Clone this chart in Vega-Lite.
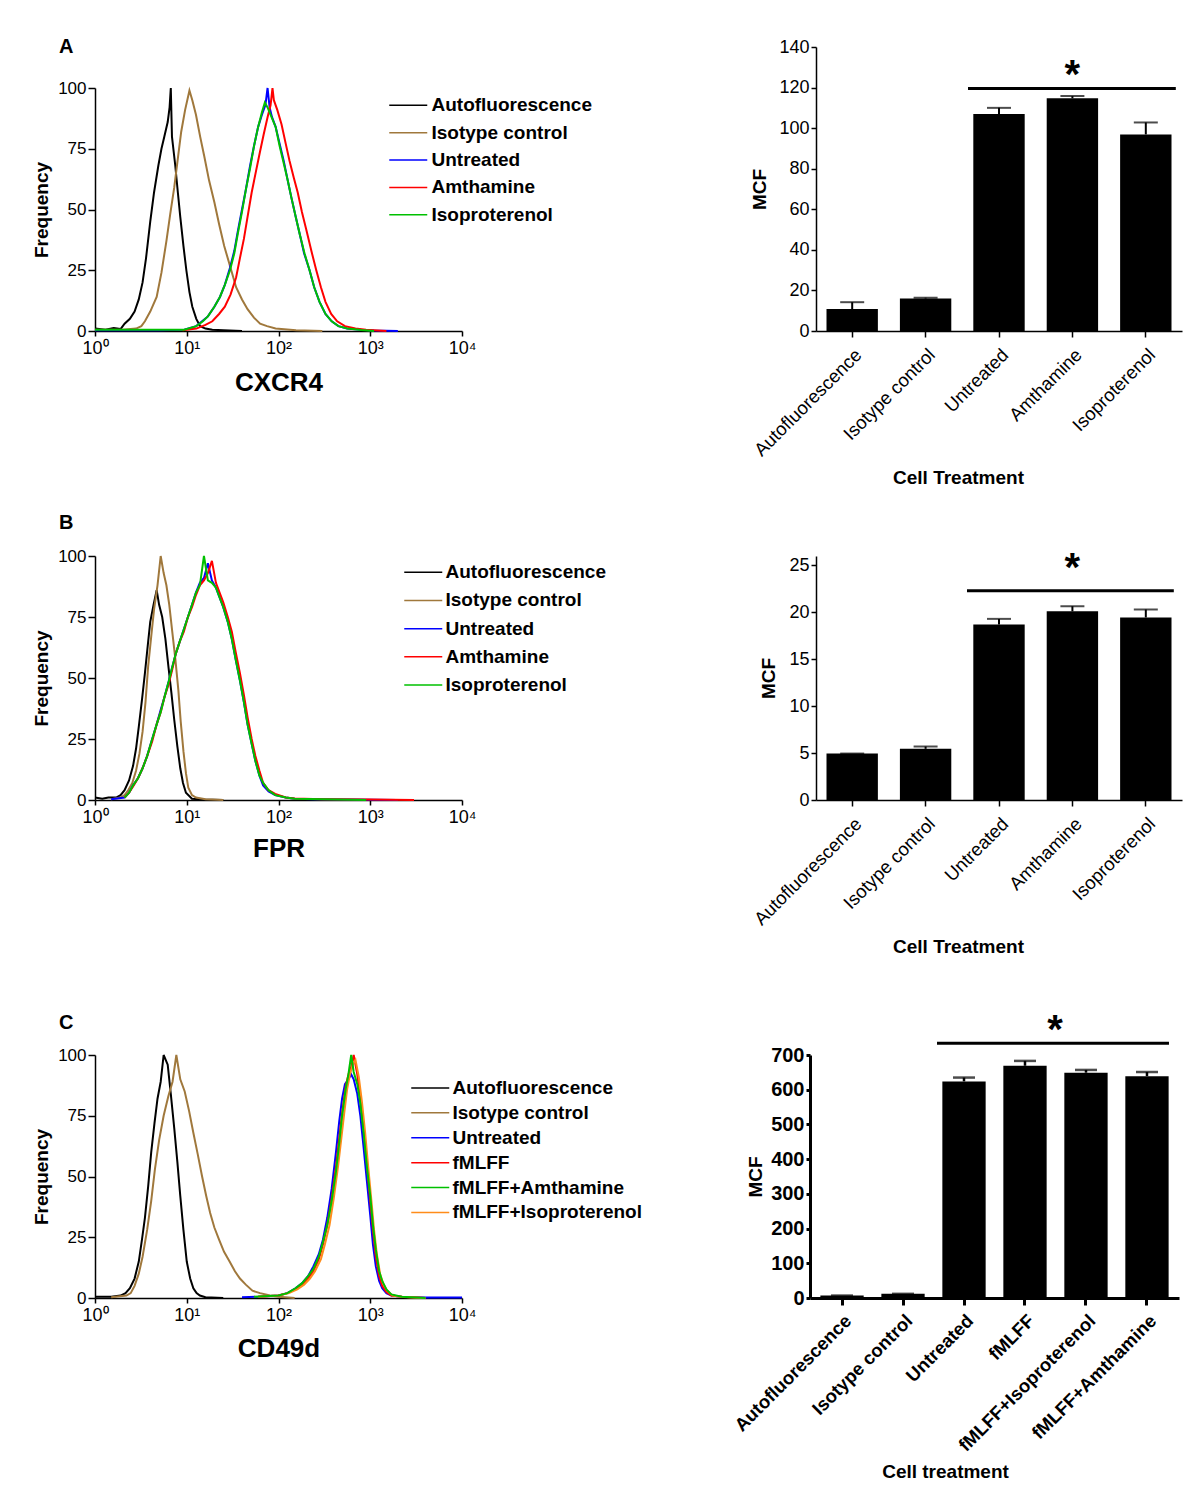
{
  "$schema": "https://vega.github.io/schema/vega-lite/v6.json",
  "background": "white",
  "padding": {"left": 32, "top": 36, "right": 5, "bottom": 5},
  "columns": 2,
  "bounds": "flush",
  "spacing": {"row": 225, "column": 354},
  "resolve": {"scale": {"color": "independent"}, "legend": {"color": "independent"}},
  "config": {
    "font": "Liberation Sans",
    "view": {"stroke": null},
    "axis": {"domainColor": "#000000", "tickColor": "#000000", "labelColor": "#000000", "titleColor": "#000000", "grid": false, "domainWidth": 1.5, "tickWidth": 1.5, "labelFont": "Liberation Sans", "titleFont": "Liberation Sans", "labelFlush": false, "labelOverlap": false, "labelLimit": 400},
    "legend": {"labelFont": "Liberation Sans", "labelLimit": 400},
    "title": {"font": "Liberation Sans", "fontSize": 20, "fontWeight": "bold", "color": "#000000", "anchor": "start", "frame": "group", "dx": -36, "baseline": "alphabetic"}
  },
  "datasets": {
    "hA": [
      {"s":"Autofluorescence","x":1,"y":1},{"s":"Autofluorescence","x":1.3,"y":0.5},{"s":"Autofluorescence","x":1.6,"y":1.2},{"s":"Autofluorescence","x":1.9,"y":0.8},{"s":"Autofluorescence","x":2.1,"y":3},{"s":"Autofluorescence","x":2.4,"y":5},{"s":"Autofluorescence","x":2.7,"y":8},{"s":"Autofluorescence","x":3.0,"y":13},{"s":"Autofluorescence","x":3.3,"y":20},{"s":"Autofluorescence","x":3.6,"y":30},{"s":"Autofluorescence","x":4.0,"y":45},{"s":"Autofluorescence","x":4.4,"y":57},{"s":"Autofluorescence","x":4.9,"y":68},{"s":"Autofluorescence","x":5.3,"y":75},{"s":"Autofluorescence","x":5.7,"y":80},{"s":"Autofluorescence","x":6.2,"y":86},{"s":"Autofluorescence","x":6.5,"y":92},{"s":"Autofluorescence","x":6.7,"y":100},{"s":"Autofluorescence","x":6.9,"y":80},{"s":"Autofluorescence","x":7.5,"y":68},{"s":"Autofluorescence","x":8.0,"y":57},{"s":"Autofluorescence","x":8.5,"y":47},{"s":"Autofluorescence","x":9.2,"y":35},{"s":"Autofluorescence","x":9.9,"y":25},{"s":"Autofluorescence","x":10.7,"y":16},{"s":"Autofluorescence","x":11.5,"y":10},{"s":"Autofluorescence","x":12.7,"y":5},{"s":"Autofluorescence","x":14,"y":2},{"s":"Autofluorescence","x":16,"y":1},{"s":"Autofluorescence","x":19,"y":0.5},{"s":"Autofluorescence","x":25,"y":0.3},{"s":"Autofluorescence","x":40,"y":0},
      {"s":"Isotype control","x":1,"y":0.5},{"s":"Isotype control","x":2,"y":0.5},{"s":"Isotype control","x":2.8,"y":1},{"s":"Isotype control","x":3.2,"y":2},{"s":"Isotype control","x":3.5,"y":4},{"s":"Isotype control","x":4.0,"y":8},{"s":"Isotype control","x":4.7,"y":14},{"s":"Isotype control","x":5.3,"y":24},{"s":"Isotype control","x":6.0,"y":37},{"s":"Isotype control","x":6.6,"y":48},{"s":"Isotype control","x":7.3,"y":59},{"s":"Isotype control","x":8.0,"y":71},{"s":"Isotype control","x":8.7,"y":82},{"s":"Isotype control","x":9.6,"y":91},{"s":"Isotype control","x":10.7,"y":99},{"s":"Isotype control","x":11.5,"y":95},{"s":"Isotype control","x":12.6,"y":89},{"s":"Isotype control","x":14,"y":80},{"s":"Isotype control","x":15.5,"y":72},{"s":"Isotype control","x":17.5,"y":62},{"s":"Isotype control","x":20,"y":53},{"s":"Isotype control","x":22.5,"y":44},{"s":"Isotype control","x":25.6,"y":35},{"s":"Isotype control","x":30,"y":26},{"s":"Isotype control","x":34.5,"y":18},{"s":"Isotype control","x":40,"y":13},{"s":"Isotype control","x":46,"y":9},{"s":"Isotype control","x":54,"y":5.5},{"s":"Isotype control","x":63,"y":3},{"s":"Isotype control","x":75,"y":2},{"s":"Isotype control","x":93,"y":1},{"s":"Isotype control","x":155,"y":0.3},{"s":"Isotype control","x":300,"y":0},
      {"s":"Untreated","x":1,"y":0.3},{"s":"Untreated","x":5,"y":0.3},{"s":"Untreated","x":9.4,"y":0.5},{"s":"Untreated","x":12.7,"y":2},{"s":"Untreated","x":17,"y":6},{"s":"Untreated","x":20,"y":10},{"s":"Untreated","x":23,"y":14},{"s":"Untreated","x":26,"y":19},{"s":"Untreated","x":29.6,"y":26},{"s":"Untreated","x":33,"y":33},{"s":"Untreated","x":36,"y":41},{"s":"Untreated","x":40,"y":50},{"s":"Untreated","x":44,"y":58},{"s":"Untreated","x":49,"y":68},{"s":"Untreated","x":54,"y":76},{"s":"Untreated","x":60,"y":84},{"s":"Untreated","x":66,"y":89},{"s":"Untreated","x":72,"y":93},{"s":"Untreated","x":76,"y":100},{"s":"Untreated","x":80,"y":92},{"s":"Untreated","x":85,"y":88},{"s":"Untreated","x":93,"y":84},{"s":"Untreated","x":103,"y":77},{"s":"Untreated","x":114,"y":70},{"s":"Untreated","x":126,"y":62},{"s":"Untreated","x":138,"y":55},{"s":"Untreated","x":154,"y":47},{"s":"Untreated","x":170,"y":40},{"s":"Untreated","x":190,"y":32},{"s":"Untreated","x":218,"y":25},{"s":"Untreated","x":245,"y":18},{"s":"Untreated","x":280,"y":12},{"s":"Untreated","x":325,"y":7},{"s":"Untreated","x":380,"y":4},{"s":"Untreated","x":450,"y":2},{"s":"Untreated","x":560,"y":1},{"s":"Untreated","x":800,"y":0.5},{"s":"Untreated","x":1100,"y":0.2},{"s":"Untreated","x":2000,"y":0},
      {"s":"Amthamine","x":9,"y":0.3},{"s":"Amthamine","x":12.7,"y":1},{"s":"Amthamine","x":16,"y":2.5},{"s":"Amthamine","x":19,"y":4},{"s":"Amthamine","x":22.5,"y":7},{"s":"Amthamine","x":26,"y":10},{"s":"Amthamine","x":30,"y":15},{"s":"Amthamine","x":34.5,"y":22},{"s":"Amthamine","x":38,"y":30},{"s":"Amthamine","x":42,"y":38},{"s":"Amthamine","x":46,"y":47},{"s":"Amthamine","x":51,"y":57},{"s":"Amthamine","x":57,"y":66},{"s":"Amthamine","x":63,"y":74},{"s":"Amthamine","x":69,"y":81},{"s":"Amthamine","x":76,"y":88},{"s":"Amthamine","x":82,"y":93},{"s":"Amthamine","x":86,"y":100},{"s":"Amthamine","x":89,"y":95},{"s":"Amthamine","x":97,"y":91},{"s":"Amthamine","x":108,"y":85},{"s":"Amthamine","x":120,"y":77},{"s":"Amthamine","x":132,"y":70},{"s":"Amthamine","x":147,"y":63},{"s":"Amthamine","x":162,"y":57},{"s":"Amthamine","x":180,"y":49},{"s":"Amthamine","x":200,"y":42},{"s":"Amthamine","x":228,"y":33},{"s":"Amthamine","x":258,"y":25},{"s":"Amthamine","x":290,"y":18},{"s":"Amthamine","x":325,"y":12},{"s":"Amthamine","x":375,"y":7},{"s":"Amthamine","x":436,"y":4},{"s":"Amthamine","x":530,"y":2},{"s":"Amthamine","x":690,"y":1},{"s":"Amthamine","x":900,"y":0.5},{"s":"Amthamine","x":1500,"y":0},
      {"s":"Isoproterenol","x":1,"y":0.5},{"s":"Isoproterenol","x":5,"y":0.5},{"s":"Isoproterenol","x":9.4,"y":0.5},{"s":"Isoproterenol","x":12.7,"y":2},{"s":"Isoproterenol","x":15,"y":4},{"s":"Isoproterenol","x":17,"y":6},{"s":"Isoproterenol","x":20,"y":10},{"s":"Isoproterenol","x":23,"y":14},{"s":"Isoproterenol","x":26,"y":19},{"s":"Isoproterenol","x":29.6,"y":25},{"s":"Isoproterenol","x":33,"y":32},{"s":"Isoproterenol","x":36,"y":40},{"s":"Isoproterenol","x":40,"y":49},{"s":"Isoproterenol","x":44,"y":58},{"s":"Isoproterenol","x":49,"y":67},{"s":"Isoproterenol","x":54,"y":76},{"s":"Isoproterenol","x":60,"y":84},{"s":"Isoproterenol","x":66,"y":90},{"s":"Isoproterenol","x":71,"y":94},{"s":"Isoproterenol","x":76,"y":92},{"s":"Isoproterenol","x":84,"y":88},{"s":"Isoproterenol","x":93,"y":84},{"s":"Isoproterenol","x":103,"y":76},{"s":"Isoproterenol","x":114,"y":69},{"s":"Isoproterenol","x":126,"y":62},{"s":"Isoproterenol","x":138,"y":55},{"s":"Isoproterenol","x":154,"y":47},{"s":"Isoproterenol","x":170,"y":40},{"s":"Isoproterenol","x":192,"y":32},{"s":"Isoproterenol","x":218,"y":25},{"s":"Isoproterenol","x":245,"y":18},{"s":"Isoproterenol","x":280,"y":12},{"s":"Isoproterenol","x":325,"y":7},{"s":"Isoproterenol","x":380,"y":4},{"s":"Isoproterenol","x":450,"y":2},{"s":"Isoproterenol","x":560,"y":1},{"s":"Isoproterenol","x":800,"y":0.4},{"s":"Isoproterenol","x":1100,"y":0}
    ],
    "hB": [
      {"s":"Autofluorescence","x":1,"y":1},{"s":"Autofluorescence","x":1.2,"y":0.5},{"s":"Autofluorescence","x":1.4,"y":1},{"s":"Autofluorescence","x":1.7,"y":1},{"s":"Autofluorescence","x":1.9,"y":2},{"s":"Autofluorescence","x":2.1,"y":4},{"s":"Autofluorescence","x":2.35,"y":8},{"s":"Autofluorescence","x":2.6,"y":14},{"s":"Autofluorescence","x":2.8,"y":21},{"s":"Autofluorescence","x":3.0,"y":30},{"s":"Autofluorescence","x":3.25,"y":41},{"s":"Autofluorescence","x":3.5,"y":52},{"s":"Autofluorescence","x":3.75,"y":63},{"s":"Autofluorescence","x":4.0,"y":73},{"s":"Autofluorescence","x":4.35,"y":80},{"s":"Autofluorescence","x":4.7,"y":86},{"s":"Autofluorescence","x":5.0,"y":80},{"s":"Autofluorescence","x":5.4,"y":75},{"s":"Autofluorescence","x":5.85,"y":66},{"s":"Autofluorescence","x":6.3,"y":55},{"s":"Autofluorescence","x":6.8,"y":44},{"s":"Autofluorescence","x":7.3,"y":33},{"s":"Autofluorescence","x":7.9,"y":22},{"s":"Autofluorescence","x":8.5,"y":13},{"s":"Autofluorescence","x":9.1,"y":7},{"s":"Autofluorescence","x":9.8,"y":3},{"s":"Autofluorescence","x":11.4,"y":0.5},{"s":"Autofluorescence","x":15,"y":0.2},{"s":"Autofluorescence","x":25,"y":0},
      {"s":"Isotype control","x":1.5,"y":0.3},{"s":"Isotype control","x":1.9,"y":1},{"s":"Isotype control","x":2.1,"y":2},{"s":"Isotype control","x":2.3,"y":4},{"s":"Isotype control","x":2.55,"y":7},{"s":"Isotype control","x":2.8,"y":12},{"s":"Isotype control","x":3.05,"y":19},{"s":"Isotype control","x":3.3,"y":28},{"s":"Isotype control","x":3.55,"y":40},{"s":"Isotype control","x":3.8,"y":55},{"s":"Isotype control","x":4.1,"y":67},{"s":"Isotype control","x":4.4,"y":78},{"s":"Isotype control","x":4.8,"y":88},{"s":"Isotype control","x":5.2,"y":100},{"s":"Isotype control","x":5.6,"y":93},{"s":"Isotype control","x":6.0,"y":88},{"s":"Isotype control","x":6.45,"y":80},{"s":"Isotype control","x":6.9,"y":70},{"s":"Isotype control","x":7.5,"y":58},{"s":"Isotype control","x":8.1,"y":45},{"s":"Isotype control","x":8.6,"y":32},{"s":"Isotype control","x":9.2,"y":20},{"s":"Isotype control","x":9.8,"y":11},{"s":"Isotype control","x":10.4,"y":5},{"s":"Isotype control","x":11.4,"y":2},{"s":"Isotype control","x":12.6,"y":1},{"s":"Isotype control","x":16,"y":0.3},{"s":"Isotype control","x":25,"y":0},
      {"s":"Untreated","x":1.5,"y":0.3},{"s":"Untreated","x":2.1,"y":1},{"s":"Untreated","x":2.35,"y":3},{"s":"Untreated","x":2.6,"y":6},{"s":"Untreated","x":2.95,"y":9},{"s":"Untreated","x":3.3,"y":13},{"s":"Untreated","x":3.7,"y":18},{"s":"Untreated","x":4.2,"y":25},{"s":"Untreated","x":4.7,"y":31},{"s":"Untreated","x":5.2,"y":37},{"s":"Untreated","x":5.7,"y":42},{"s":"Untreated","x":6.3,"y":48},{"s":"Untreated","x":6.9,"y":54},{"s":"Untreated","x":7.6,"y":60},{"s":"Untreated","x":8.4,"y":65},{"s":"Untreated","x":9.3,"y":70},{"s":"Untreated","x":10.3,"y":75},{"s":"Untreated","x":11.4,"y":80},{"s":"Untreated","x":12.6,"y":85},{"s":"Untreated","x":13.9,"y":89},{"s":"Untreated","x":15.4,"y":91},{"s":"Untreated","x":17,"y":97},{"s":"Untreated","x":18.8,"y":90},{"s":"Untreated","x":20.8,"y":87},{"s":"Untreated","x":22.8,"y":83},{"s":"Untreated","x":25,"y":79},{"s":"Untreated","x":28,"y":73},{"s":"Untreated","x":31,"y":66},{"s":"Untreated","x":34,"y":58},{"s":"Untreated","x":38,"y":49},{"s":"Untreated","x":42,"y":40},{"s":"Untreated","x":46,"y":31},{"s":"Untreated","x":51,"y":23},{"s":"Untreated","x":56,"y":16},{"s":"Untreated","x":62,"y":10},{"s":"Untreated","x":68,"y":6},{"s":"Untreated","x":78,"y":3.5},{"s":"Untreated","x":92,"y":2},{"s":"Untreated","x":120,"y":1},{"s":"Untreated","x":150,"y":0.5},{"s":"Untreated","x":250,"y":0.3},{"s":"Untreated","x":600,"y":0.2},{"s":"Untreated","x":2000,"y":0},
      {"s":"Amthamine","x":2.1,"y":1},{"s":"Amthamine","x":2.35,"y":3},{"s":"Amthamine","x":2.6,"y":5.5},{"s":"Amthamine","x":2.95,"y":9},{"s":"Amthamine","x":3.3,"y":13},{"s":"Amthamine","x":3.7,"y":18},{"s":"Amthamine","x":4.2,"y":24},{"s":"Amthamine","x":4.7,"y":31},{"s":"Amthamine","x":5.2,"y":36},{"s":"Amthamine","x":5.7,"y":42},{"s":"Amthamine","x":6.3,"y":47},{"s":"Amthamine","x":6.9,"y":53},{"s":"Amthamine","x":7.6,"y":60},{"s":"Amthamine","x":8.4,"y":65},{"s":"Amthamine","x":9.3,"y":69},{"s":"Amthamine","x":10.3,"y":75},{"s":"Amthamine","x":11.4,"y":79},{"s":"Amthamine","x":12.6,"y":84},{"s":"Amthamine","x":13.9,"y":88},{"s":"Amthamine","x":15.4,"y":90},{"s":"Amthamine","x":17,"y":93},{"s":"Amthamine","x":18.8,"y":98},{"s":"Amthamine","x":20.8,"y":89},{"s":"Amthamine","x":22.8,"y":85},{"s":"Amthamine","x":25,"y":81},{"s":"Amthamine","x":28,"y":75},{"s":"Amthamine","x":31,"y":69},{"s":"Amthamine","x":34,"y":61},{"s":"Amthamine","x":38,"y":52},{"s":"Amthamine","x":42,"y":43},{"s":"Amthamine","x":46,"y":34},{"s":"Amthamine","x":51,"y":25},{"s":"Amthamine","x":56,"y":18},{"s":"Amthamine","x":62,"y":12},{"s":"Amthamine","x":68,"y":7},{"s":"Amthamine","x":78,"y":4},{"s":"Amthamine","x":92,"y":2.5},{"s":"Amthamine","x":120,"y":1},{"s":"Amthamine","x":150,"y":0.6},{"s":"Amthamine","x":300,"y":0.3},{"s":"Amthamine","x":1000,"y":0.2},{"s":"Amthamine","x":3000,"y":0},
      {"s":"Isoproterenol","x":2.1,"y":1},{"s":"Isoproterenol","x":2.35,"y":3},{"s":"Isoproterenol","x":2.6,"y":6},{"s":"Isoproterenol","x":2.95,"y":9},{"s":"Isoproterenol","x":3.3,"y":13},{"s":"Isoproterenol","x":3.7,"y":18},{"s":"Isoproterenol","x":4.2,"y":25},{"s":"Isoproterenol","x":4.7,"y":31},{"s":"Isoproterenol","x":5.2,"y":36},{"s":"Isoproterenol","x":5.7,"y":42},{"s":"Isoproterenol","x":6.3,"y":48},{"s":"Isoproterenol","x":6.9,"y":54},{"s":"Isoproterenol","x":7.6,"y":60},{"s":"Isoproterenol","x":8.4,"y":65},{"s":"Isoproterenol","x":9.3,"y":70},{"s":"Isoproterenol","x":10.3,"y":75},{"s":"Isoproterenol","x":11.4,"y":80},{"s":"Isoproterenol","x":12.6,"y":85},{"s":"Isoproterenol","x":13.9,"y":88},{"s":"Isoproterenol","x":15.4,"y":100},{"s":"Isoproterenol","x":17,"y":90},{"s":"Isoproterenol","x":18.8,"y":89},{"s":"Isoproterenol","x":20.8,"y":87},{"s":"Isoproterenol","x":22.8,"y":83},{"s":"Isoproterenol","x":25,"y":79},{"s":"Isoproterenol","x":28,"y":73},{"s":"Isoproterenol","x":31,"y":66},{"s":"Isoproterenol","x":34,"y":58},{"s":"Isoproterenol","x":38,"y":49},{"s":"Isoproterenol","x":42,"y":40},{"s":"Isoproterenol","x":46,"y":31},{"s":"Isoproterenol","x":51,"y":23},{"s":"Isoproterenol","x":56,"y":16},{"s":"Isoproterenol","x":62,"y":10},{"s":"Isoproterenol","x":68,"y":7},{"s":"Isoproterenol","x":78,"y":4},{"s":"Isoproterenol","x":92,"y":2},{"s":"Isoproterenol","x":120,"y":1},{"s":"Isoproterenol","x":150,"y":0.5},{"s":"Isoproterenol","x":300,"y":0.3},{"s":"Isoproterenol","x":900,"y":0}
    ],
    "hC": [
      {"s":"Autofluorescence","x":1,"y":0.5},{"s":"Autofluorescence","x":1.5,"y":0.5},{"s":"Autofluorescence","x":1.9,"y":1},{"s":"Autofluorescence","x":2.15,"y":2},{"s":"Autofluorescence","x":2.4,"y":4},{"s":"Autofluorescence","x":2.7,"y":8},{"s":"Autofluorescence","x":3.0,"y":15},{"s":"Autofluorescence","x":3.25,"y":24},{"s":"Autofluorescence","x":3.5,"y":33},{"s":"Autofluorescence","x":3.8,"y":46},{"s":"Autofluorescence","x":4.1,"y":60},{"s":"Autofluorescence","x":4.45,"y":72},{"s":"Autofluorescence","x":4.8,"y":82},{"s":"Autofluorescence","x":5.2,"y":89},{"s":"Autofluorescence","x":5.6,"y":100},{"s":"Autofluorescence","x":6.2,"y":96},{"s":"Autofluorescence","x":6.7,"y":84},{"s":"Autofluorescence","x":7.3,"y":70},{"s":"Autofluorescence","x":7.9,"y":56},{"s":"Autofluorescence","x":8.5,"y":42},{"s":"Autofluorescence","x":9.2,"y":28},{"s":"Autofluorescence","x":10,"y":15},{"s":"Autofluorescence","x":10.9,"y":8},{"s":"Autofluorescence","x":11.8,"y":4},{"s":"Autofluorescence","x":12.8,"y":2},{"s":"Autofluorescence","x":13.9,"y":1},{"s":"Autofluorescence","x":16,"y":0.3},{"s":"Autofluorescence","x":25,"y":0},
      {"s":"Isotype control","x":1.5,"y":0.3},{"s":"Isotype control","x":2.2,"y":1},{"s":"Isotype control","x":2.45,"y":2},{"s":"Isotype control","x":2.7,"y":5},{"s":"Isotype control","x":3.0,"y":10},{"s":"Isotype control","x":3.3,"y":17},{"s":"Isotype control","x":3.7,"y":28},{"s":"Isotype control","x":4.1,"y":40},{"s":"Isotype control","x":4.5,"y":53},{"s":"Isotype control","x":5.0,"y":65},{"s":"Isotype control","x":5.6,"y":75},{"s":"Isotype control","x":6.3,"y":83},{"s":"Isotype control","x":7.0,"y":89},{"s":"Isotype control","x":7.7,"y":100},{"s":"Isotype control","x":8.5,"y":90},{"s":"Isotype control","x":9.5,"y":85},{"s":"Isotype control","x":10.6,"y":77},{"s":"Isotype control","x":11.8,"y":68},{"s":"Isotype control","x":13.2,"y":59},{"s":"Isotype control","x":14.7,"y":50},{"s":"Isotype control","x":16.3,"y":42},{"s":"Isotype control","x":18,"y":35},{"s":"Isotype control","x":20,"y":29},{"s":"Isotype control","x":22.5,"y":24},{"s":"Isotype control","x":25.5,"y":19},{"s":"Isotype control","x":29.3,"y":15},{"s":"Isotype control","x":33.5,"y":11},{"s":"Isotype control","x":38,"y":8},{"s":"Isotype control","x":44,"y":5.5},{"s":"Isotype control","x":52,"y":3},{"s":"Isotype control","x":63,"y":2},{"s":"Isotype control","x":81,"y":1},{"s":"Isotype control","x":100,"y":0.5},{"s":"Isotype control","x":150,"y":0},
      {"s":"Untreated","x":40,"y":0.3},{"s":"Untreated","x":60,"y":0.5},{"s":"Untreated","x":100,"y":1},{"s":"Untreated","x":125,"y":2},{"s":"Untreated","x":153,"y":4},{"s":"Untreated","x":180,"y":6},{"s":"Untreated","x":210,"y":9},{"s":"Untreated","x":240,"y":13},{"s":"Untreated","x":275,"y":18},{"s":"Untreated","x":305,"y":24},{"s":"Untreated","x":340,"y":33},{"s":"Untreated","x":380,"y":45},{"s":"Untreated","x":423,"y":60},{"s":"Untreated","x":460,"y":73},{"s":"Untreated","x":493,"y":82},{"s":"Untreated","x":530,"y":88},{"s":"Untreated","x":578,"y":90},{"s":"Untreated","x":620,"y":92},{"s":"Untreated","x":660,"y":90},{"s":"Untreated","x":722,"y":84},{"s":"Untreated","x":780,"y":75},{"s":"Untreated","x":846,"y":62},{"s":"Untreated","x":920,"y":48},{"s":"Untreated","x":1000,"y":34},{"s":"Untreated","x":1070,"y":22},{"s":"Untreated","x":1150,"y":13},{"s":"Untreated","x":1250,"y":7},{"s":"Untreated","x":1350,"y":4},{"s":"Untreated","x":1500,"y":2},{"s":"Untreated","x":1700,"y":1},{"s":"Untreated","x":2200,"y":0.5},{"s":"Untreated","x":4000,"y":0.2},{"s":"Untreated","x":10000,"y":0.2},
      {"s":"fMLFF","x":60,"y":0.5},{"s":"fMLFF","x":100,"y":1},{"s":"fMLFF","x":125,"y":2},{"s":"fMLFF","x":153,"y":3.5},{"s":"fMLFF","x":180,"y":5.5},{"s":"fMLFF","x":210,"y":8},{"s":"fMLFF","x":240,"y":11},{"s":"fMLFF","x":275,"y":16},{"s":"fMLFF","x":305,"y":22},{"s":"fMLFF","x":340,"y":30},{"s":"fMLFF","x":380,"y":41},{"s":"fMLFF","x":423,"y":54},{"s":"fMLFF","x":460,"y":66},{"s":"fMLFF","x":493,"y":76},{"s":"fMLFF","x":540,"y":87},{"s":"fMLFF","x":578,"y":92},{"s":"fMLFF","x":620,"y":95},{"s":"fMLFF","x":660,"y":100},{"s":"fMLFF","x":722,"y":92},{"s":"fMLFF","x":780,"y":82},{"s":"fMLFF","x":846,"y":70},{"s":"fMLFF","x":920,"y":55},{"s":"fMLFF","x":1000,"y":40},{"s":"fMLFF","x":1070,"y":28},{"s":"fMLFF","x":1150,"y":17},{"s":"fMLFF","x":1250,"y":9},{"s":"fMLFF","x":1350,"y":5},{"s":"fMLFF","x":1500,"y":2.5},{"s":"fMLFF","x":1700,"y":1},{"s":"fMLFF","x":2200,"y":0.5},{"s":"fMLFF","x":4000,"y":0},
      {"s":"fMLFF+Isoproterenol","x":60,"y":0.5},{"s":"fMLFF+Isoproterenol","x":100,"y":1},{"s":"fMLFF+Isoproterenol","x":130,"y":2},{"s":"fMLFF+Isoproterenol","x":160,"y":3.5},{"s":"fMLFF+Isoproterenol","x":190,"y":5.5},{"s":"fMLFF+Isoproterenol","x":220,"y":8},{"s":"fMLFF+Isoproterenol","x":250,"y":11},{"s":"fMLFF+Isoproterenol","x":290,"y":16},{"s":"fMLFF+Isoproterenol","x":320,"y":22},{"s":"fMLFF+Isoproterenol","x":360,"y":30},{"s":"fMLFF+Isoproterenol","x":400,"y":41},{"s":"fMLFF+Isoproterenol","x":445,"y":54},{"s":"fMLFF+Isoproterenol","x":485,"y":66},{"s":"fMLFF+Isoproterenol","x":520,"y":76},{"s":"fMLFF+Isoproterenol","x":560,"y":86},{"s":"fMLFF+Isoproterenol","x":600,"y":92},{"s":"fMLFF+Isoproterenol","x":645,"y":96},{"s":"fMLFF+Isoproterenol","x":690,"y":98},{"s":"fMLFF+Isoproterenol","x":750,"y":91},{"s":"fMLFF+Isoproterenol","x":810,"y":81},{"s":"fMLFF+Isoproterenol","x":880,"y":68},{"s":"fMLFF+Isoproterenol","x":950,"y":54},{"s":"fMLFF+Isoproterenol","x":1030,"y":40},{"s":"fMLFF+Isoproterenol","x":1100,"y":28},{"s":"fMLFF+Isoproterenol","x":1180,"y":18},{"s":"fMLFF+Isoproterenol","x":1280,"y":10},{"s":"fMLFF+Isoproterenol","x":1380,"y":6},{"s":"fMLFF+Isoproterenol","x":1530,"y":3},{"s":"fMLFF+Isoproterenol","x":1750,"y":1},{"s":"fMLFF+Isoproterenol","x":2300,"y":0.4},{"s":"fMLFF+Isoproterenol","x":4000,"y":0},
      {"s":"fMLFF+Amthamine","x":54,"y":0.5},{"s":"fMLFF+Amthamine","x":100,"y":1},{"s":"fMLFF+Amthamine","x":125,"y":2},{"s":"fMLFF+Amthamine","x":153,"y":4},{"s":"fMLFF+Amthamine","x":180,"y":6},{"s":"fMLFF+Amthamine","x":210,"y":9},{"s":"fMLFF+Amthamine","x":240,"y":12},{"s":"fMLFF+Amthamine","x":275,"y":17},{"s":"fMLFF+Amthamine","x":305,"y":23},{"s":"fMLFF+Amthamine","x":340,"y":30},{"s":"fMLFF+Amthamine","x":380,"y":40},{"s":"fMLFF+Amthamine","x":423,"y":52},{"s":"fMLFF+Amthamine","x":460,"y":64},{"s":"fMLFF+Amthamine","x":493,"y":75},{"s":"fMLFF+Amthamine","x":540,"y":86},{"s":"fMLFF+Amthamine","x":578,"y":92},{"s":"fMLFF+Amthamine","x":620,"y":100},{"s":"fMLFF+Amthamine","x":660,"y":93},{"s":"fMLFF+Amthamine","x":722,"y":88},{"s":"fMLFF+Amthamine","x":780,"y":80},{"s":"fMLFF+Amthamine","x":846,"y":68},{"s":"fMLFF+Amthamine","x":920,"y":54},{"s":"fMLFF+Amthamine","x":1000,"y":42},{"s":"fMLFF+Amthamine","x":1070,"y":30},{"s":"fMLFF+Amthamine","x":1150,"y":20},{"s":"fMLFF+Amthamine","x":1250,"y":11},{"s":"fMLFF+Amthamine","x":1350,"y":7},{"s":"fMLFF+Amthamine","x":1500,"y":3.5},{"s":"fMLFF+Amthamine","x":1700,"y":1.5},{"s":"fMLFF+Amthamine","x":2200,"y":0.5},{"s":"fMLFF+Amthamine","x":4000,"y":0}
    ],
    "bA": [
      {"t":"Autofluorescence","v":10.8,"hi":14.2},
      {"t":"Isotype control","v":16.0,"hi":16.4},
      {"t":"Untreated","v":107.0,"hi":110.0},
      {"t":"Amthamine","v":114.7,"hi":115.8},
      {"t":"Isoproterenol","v":96.9,"hi":102.8}
    ],
    "bB": [
      {"t":"Autofluorescence","v":4.95,"hi":4.95},
      {"t":"Isotype control","v":5.45,"hi":5.7},
      {"t":"Untreated","v":18.7,"hi":19.3},
      {"t":"Amthamine","v":20.1,"hi":20.65},
      {"t":"Isoproterenol","v":19.45,"hi":20.3}
    ],
    "bC": [
      {"t":"Autofluorescence","v":7,"hi":7},
      {"t":"Isotype control","v":12,"hi":12},
      {"t":"Untreated","v":624,"hi":635},
      {"t":"fMLFF","v":669,"hi":683},
      {"t":"fMLFF+Isoproterenol","v":649,"hi":657},
      {"t":"fMLFF+Amthamine","v":639,"hi":651}
    ],
    "sA": [{"a":"Untreated","b":"Isoproterenol","y":119.6,"star":"Amthamine","sy":120}],
    "sB": [{"a":"Untreated","b":"Isoproterenol","y":22.3,"star":"Amthamine","sy":23.3}],
    "sC": [{"a":"Untreated","b":"fMLFF+Amthamine","y":733.7,"star":"fMLFF","sy":735}]
  },
  "concat": [
    {
      "width": 367, "height": 284,
      "title": {"text": "A", "offset": -9.5},
      "data": {"name": "hA"},
      "mark": {"type": "line", "strokeWidth": 2},
      "encoding": {
        "x": {"field": "x", "type": "quantitative", "scale": {"type": "log", "domain": [1, 10000], "nice": false},
          "axis": {"values": [1, 10, 100, 1000, 10000], "labelExpr": "'10' + ['⁰','¹','²','³','⁴'][round(log(datum.value)/LN10)]", "labelFontSize": 18, "tickSize": 5, "labelPadding": 3, "title": "CXCR4", "titleFontSize": 26, "titleFontWeight": "bold", "titleY": 51, "titleBaseline": "middle"}},
        "y": {"field": "y", "type": "quantitative", "scale": {"domain": [0, 100], "range": [284, 41]},
          "axis": {"values": [0, 25, 50, 75, 100], "labelFontSize": 17, "tickSize": 7, "labelPadding": 2, "title": "Frequency", "titleFontSize": 19, "titleFontWeight": "bold", "titleX": -54, "titleBaseline": "middle"}},
        "color": {"field": "s", "type": "nominal",
          "scale": {"domain": ["Autofluorescence", "Isotype control", "Untreated", "Amthamine", "Isoproterenol"], "range": ["#000000", "#A0783C", "#0000FF", "#FF0000", "#00C000"]},
          "legend": {"title": null, "orient": "none", "legendX": 302.75, "legendY": 47.75, "symbolType": "M-2,0H2", "symbolSize": 361, "symbolStrokeWidth": 1.5, "labelFontSize": 19, "labelFontWeight": "bold", "labelColor": "#000000", "labelOffset": 12.75, "rowPadding": 6.4, "padding": 0}}
      }
    },
    {
      "width": 366, "height": 284,
      "data": {"name": "bA"},
      "encoding": {
        "x": {"field": "t", "type": "nominal", "scale": {"domain": ["Autofluorescence", "Isotype control", "Untreated", "Amthamine", "Isoproterenol"], "paddingInner": 0.3, "paddingOuter": 0.143},
          "axis": {"labelAngle": -45, "labelFontSize": 18.5, "tickSize": 6, "labelPadding": 8, "title": "Cell Treatment", "titleFontSize": 19, "titleFontWeight": "bold", "titleX": 142, "titleY": 146, "titleBaseline": "middle"}}
      },
      "layer": [
        {"mark": {"type": "bar", "color": "#000000"},
         "encoding": {"y": {"field": "v", "type": "quantitative", "scale": {"domain": [0, 140]},
           "axis": {"values": [0, 20, 40, 60, 80, 100, 120, 140], "labelFontSize": 18, "tickSize": 5, "labelPadding": 2, "title": "MCF", "titleFontSize": 19, "titleFontWeight": "bold", "titleX": -57, "titleBaseline": "middle"}}}},
        {"mark": {"type": "rule", "color": "#000000", "strokeWidth": 2},
         "encoding": {"y": {"field": "v", "type": "quantitative",
           "axis": {"values": [0, 20, 40, 60, 80, 100, 120, 140], "labelFontSize": 18, "tickSize": 5, "labelPadding": 2, "title": "MCF", "titleFontSize": 19, "titleFontWeight": "bold", "titleX": -57, "titleBaseline": "middle"}}, "y2": {"field": "hi"}}},
        {"mark": {"type": "tick", "color": "#000000", "thickness": 2, "size": 24},
         "encoding": {"y": {"field": "hi", "type": "quantitative",
           "axis": {"values": [0, 20, 40, 60, 80, 100, 120, 140], "labelFontSize": 18, "tickSize": 5, "labelPadding": 2, "title": "MCF", "titleFontSize": 19, "titleFontWeight": "bold", "titleX": -57, "titleBaseline": "middle"}}}},
        {"data": {"name": "sA"}, "mark": {"type": "rule", "color": "#000000", "strokeWidth": 3, "xOffset": -31, "x2Offset": 30},
         "encoding": {"x": {"field": "a", "type": "nominal"}, "x2": {"field": "b"}, "y": {"field": "y", "type": "quantitative",
           "axis": {"values": [0, 20, 40, 60, 80, 100, 120, 140], "labelFontSize": 18, "tickSize": 5, "labelPadding": 2, "title": "MCF", "titleFontSize": 19, "titleFontWeight": "bold", "titleX": -57, "titleBaseline": "middle"}}}},
        {"data": {"name": "sA"}, "mark": {"type": "text", "text": "*", "fontSize": 40, "fontWeight": "bold", "baseline": "alphabetic", "align": "center", "color": "#000000"},
         "encoding": {"x": {"field": "star", "type": "nominal"}, "y": {"field": "sy", "type": "quantitative",
           "axis": {"values": [0, 20, 40, 60, 80, 100, 120, 140], "labelFontSize": 18, "tickSize": 5, "labelPadding": 2, "title": "MCF", "titleFontSize": 19, "titleFontWeight": "bold", "titleX": -57, "titleBaseline": "middle"}}}}
      ]
    },
    {
      "width": 367, "height": 244,
      "title": {"text": "B", "offset": 14},
      "data": {"name": "hB"},
      "mark": {"type": "line", "strokeWidth": 2},
      "encoding": {
        "x": {"field": "x", "type": "quantitative", "scale": {"type": "log", "domain": [1, 10000], "nice": false},
          "axis": {"values": [1, 10, 100, 1000, 10000], "labelExpr": "'10' + ['⁰','¹','²','³','⁴'][round(log(datum.value)/LN10)]", "labelFontSize": 18, "tickSize": 5, "labelPadding": 3, "title": "FPR", "titleFontSize": 26, "titleFontWeight": "bold", "titleY": 48, "titleBaseline": "middle"}},
        "y": {"field": "y", "type": "quantitative", "scale": {"domain": [0, 100]},
          "axis": {"values": [0, 25, 50, 75, 100], "labelFontSize": 17, "tickSize": 7, "labelPadding": 2, "title": "Frequency", "titleFontSize": 19, "titleFontWeight": "bold", "titleX": -54, "titleBaseline": "middle"}},
        "color": {"field": "s", "type": "nominal",
          "scale": {"domain": ["Autofluorescence", "Isotype control", "Untreated", "Amthamine", "Isoproterenol"], "range": ["#000000", "#A0783C", "#0000FF", "#FF0000", "#00C000"]},
          "legend": {"title": null, "orient": "none", "legendX": 317.75, "legendY": 5.75, "symbolType": "M-2,0H2", "symbolSize": 361, "symbolStrokeWidth": 1.5, "labelFontSize": 19, "labelFontWeight": "bold", "labelColor": "#000000", "labelOffset": 11.75, "rowPadding": 7.2, "padding": 0}}
      }
    },
    {
      "width": 366, "height": 244,
      "data": {"name": "bB"},
      "encoding": {
        "x": {"field": "t", "type": "nominal", "scale": {"domain": ["Autofluorescence", "Isotype control", "Untreated", "Amthamine", "Isoproterenol"], "paddingInner": 0.3, "paddingOuter": 0.143},
          "axis": {"labelAngle": -45, "labelFontSize": 18.5, "tickSize": 6, "labelPadding": 8, "title": "Cell Treatment", "titleFontSize": 19, "titleFontWeight": "bold", "titleX": 142, "titleY": 146, "titleBaseline": "middle"}}
      },
      "layer": [
        {"mark": {"type": "bar", "color": "#000000"},
         "encoding": {"y": {"field": "v", "type": "quantitative", "scale": {"domain": [0, 25]},
           "axis": {"values": [0, 5, 10, 15, 20, 25], "labelFontSize": 18, "tickSize": 5, "labelPadding": 2, "title": "MCF", "titleFontSize": 19, "titleFontWeight": "bold", "titleX": -48, "titleBaseline": "middle"}}}},
        {"mark": {"type": "rule", "color": "#000000", "strokeWidth": 2},
         "encoding": {"y": {"field": "v", "type": "quantitative",
           "axis": {"values": [0, 5, 10, 15, 20, 25], "labelFontSize": 18, "tickSize": 5, "labelPadding": 2, "title": "MCF", "titleFontSize": 19, "titleFontWeight": "bold", "titleX": -48, "titleBaseline": "middle"}}, "y2": {"field": "hi"}}},
        {"mark": {"type": "tick", "color": "#000000", "thickness": 2, "size": 24},
         "encoding": {"y": {"field": "hi", "type": "quantitative",
           "axis": {"values": [0, 5, 10, 15, 20, 25], "labelFontSize": 18, "tickSize": 5, "labelPadding": 2, "title": "MCF", "titleFontSize": 19, "titleFontWeight": "bold", "titleX": -48, "titleBaseline": "middle"}}}},
        {"data": {"name": "sB"}, "mark": {"type": "rule", "color": "#000000", "strokeWidth": 3, "xOffset": -32, "x2Offset": 28},
         "encoding": {"x": {"field": "a", "type": "nominal"}, "x2": {"field": "b"}, "y": {"field": "y", "type": "quantitative",
           "axis": {"values": [0, 5, 10, 15, 20, 25], "labelFontSize": 18, "tickSize": 5, "labelPadding": 2, "title": "MCF", "titleFontSize": 19, "titleFontWeight": "bold", "titleX": -48, "titleBaseline": "middle"}}}},
        {"data": {"name": "sB"}, "mark": {"type": "text", "text": "*", "fontSize": 40, "fontWeight": "bold", "baseline": "alphabetic", "align": "center", "color": "#000000"},
         "encoding": {"x": {"field": "star", "type": "nominal"}, "y": {"field": "sy", "type": "quantitative",
           "axis": {"values": [0, 5, 10, 15, 20, 25], "labelFontSize": 18, "tickSize": 5, "labelPadding": 2, "title": "MCF", "titleFontSize": 19, "titleFontWeight": "bold", "titleX": -48, "titleBaseline": "middle"}}}}
      ]
    },
    {
      "width": 367, "height": 273,
      "title": {"text": "C", "offset": -8},
      "data": {"name": "hC"},
      "mark": {"type": "line", "strokeWidth": 2},
      "encoding": {
        "x": {"field": "x", "type": "quantitative", "scale": {"type": "log", "domain": [1, 10000], "nice": false},
          "axis": {"values": [1, 10, 100, 1000, 10000], "labelExpr": "'10' + ['⁰','¹','²','³','⁴'][round(log(datum.value)/LN10)]", "labelFontSize": 18, "tickSize": 5, "labelPadding": 3, "title": "CD49d", "titleFontSize": 26, "titleFontWeight": "bold", "titleY": 50, "titleBaseline": "middle"}},
        "y": {"field": "y", "type": "quantitative", "scale": {"domain": [0, 100], "range": [273, 30]},
          "axis": {"values": [0, 25, 50, 75, 100], "labelFontSize": 17, "tickSize": 7, "labelPadding": 2, "title": "Frequency", "titleFontSize": 19, "titleFontWeight": "bold", "titleX": -54, "titleBaseline": "middle"}},
        "color": {"field": "s", "type": "nominal",
          "scale": {"domain": ["Autofluorescence", "Isotype control", "Untreated", "fMLFF", "fMLFF+Amthamine", "fMLFF+Isoproterenol"], "range": ["#000000", "#A0783C", "#0000FF", "#FF0000", "#00C000", "#FF8C1A"]},
          "legend": {"title": null, "orient": "none", "legendX": 324.75, "legendY": 52.45, "symbolType": "M-2,0H2", "symbolSize": 361, "symbolStrokeWidth": 1.5, "labelFontSize": 19, "labelFontWeight": "bold", "labelColor": "#000000", "labelOffset": 11.75, "rowPadding": 3.9, "padding": 0}}
      }
    },
    {
      "width": 363, "height": 273,
      "data": {"name": "bC"},
      "encoding": {
        "x": {"field": "t", "type": "nominal", "scale": {"domain": ["Autofluorescence", "Isotype control", "Untreated", "fMLFF", "fMLFF+Isoproterenol", "fMLFF+Amthamine"], "range": [-6, 363], "paddingInner": 0.29, "paddingOuter": 0.17},
          "axis": {"labelAngle": -45, "labelFontSize": 18.5, "labelFontWeight": "bold", "tickSize": 7, "tickWidth": 3, "domainWidth": 3, "labelPadding": 6, "title": "Cell  treatment", "titleFontSize": 19, "titleFontWeight": "bold", "titleX": 129, "titleY": 173, "titleBaseline": "middle"}}
      },
      "layer": [
        {"mark": {"type": "bar", "color": "#000000"},
         "encoding": {"y": {"field": "v", "type": "quantitative", "scale": {"domain": [0, 700], "range": [273, 30]},
           "axis": {"offset": 6, "values": [0, 100, 200, 300, 400, 500, 600, 700], "labelFontSize": 20, "labelFontWeight": "bold", "tickSize": 4, "tickWidth": 3, "domainWidth": 3, "labelPadding": 2, "title": "MCF", "titleFontSize": 19, "titleFontWeight": "bold", "titleX": -55, "titleBaseline": "middle"}}}},
        {"mark": {"type": "rule", "color": "#000000", "strokeWidth": 2.5},
         "encoding": {"y": {"field": "v", "type": "quantitative",
           "axis": {"offset": 6, "values": [0, 100, 200, 300, 400, 500, 600, 700], "labelFontSize": 20, "labelFontWeight": "bold", "tickSize": 4, "tickWidth": 3, "domainWidth": 3, "labelPadding": 2, "title": "MCF", "titleFontSize": 19, "titleFontWeight": "bold", "titleX": -55, "titleBaseline": "middle"}}, "y2": {"field": "hi"}}},
        {"mark": {"type": "tick", "color": "#000000", "thickness": 2.5, "size": 22},
         "encoding": {"y": {"field": "hi", "type": "quantitative",
           "axis": {"offset": 6, "values": [0, 100, 200, 300, 400, 500, 600, 700], "labelFontSize": 20, "labelFontWeight": "bold", "tickSize": 4, "tickWidth": 3, "domainWidth": 3, "labelPadding": 2, "title": "MCF", "titleFontSize": 19, "titleFontWeight": "bold", "titleX": -55, "titleBaseline": "middle"}}}},
        {"data": {"name": "sC"}, "mark": {"type": "rule", "color": "#000000", "strokeWidth": 3, "xOffset": -27, "x2Offset": 22},
         "encoding": {"x": {"field": "a", "type": "nominal"}, "x2": {"field": "b"}, "y": {"field": "y", "type": "quantitative",
           "axis": {"offset": 6, "values": [0, 100, 200, 300, 400, 500, 600, 700], "labelFontSize": 20, "labelFontWeight": "bold", "tickSize": 4, "tickWidth": 3, "domainWidth": 3, "labelPadding": 2, "title": "MCF", "titleFontSize": 19, "titleFontWeight": "bold", "titleX": -55, "titleBaseline": "middle"}}}},
        {"data": {"name": "sC"}, "mark": {"type": "text", "text": "*", "fontSize": 40, "fontWeight": "bold", "baseline": "alphabetic", "align": "center", "color": "#000000", "dx": 30},
         "encoding": {"x": {"field": "star", "type": "nominal"}, "y": {"field": "sy", "type": "quantitative",
           "axis": {"offset": 6, "values": [0, 100, 200, 300, 400, 500, 600, 700], "labelFontSize": 20, "labelFontWeight": "bold", "tickSize": 4, "tickWidth": 3, "domainWidth": 3, "labelPadding": 2, "title": "MCF", "titleFontSize": 19, "titleFontWeight": "bold", "titleX": -55, "titleBaseline": "middle"}}}}
      ]
    }
  ]
}
